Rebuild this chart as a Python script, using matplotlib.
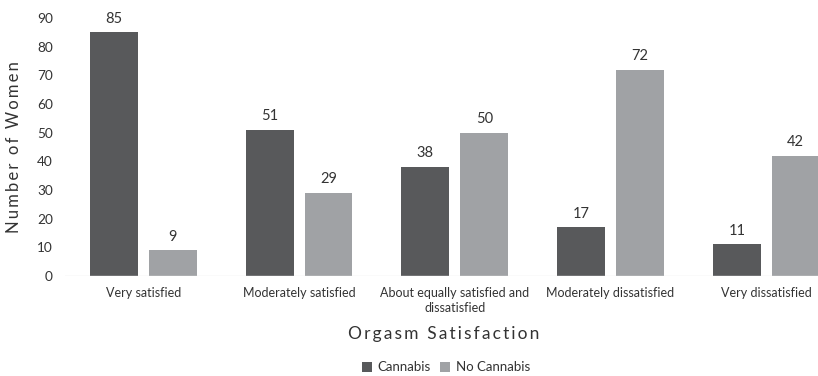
import numpy as np
from matplotlib import pyplot as plt

categories = ["Very satisfied", "Moderately satisfied",
              "About equally satisfied and\ndissatisfied",
              "Moderately dissatisfied", "Very dissatisfied"]
cannabis = [85, 51, 38, 17, 11]
no_cannabis = [9, 29, 50, 72, 42]
series_names = ["Cannabis", "No Cannabis"]

plt.rcParams["font.family"] = ["Lato", "DejaVu Sans"]

def spaced(s):
	# letter-spaced titles, like the original
	return "\u2009".join(s)

fig = plt.figure(figsize=(8.18, 3.76), dpi=100)
# axes run past the right edge on purpose (the original is cropped)
ax = fig.add_axes([0.080, 0.266, 0.952, 0.686])

x = np.arange(len(categories))
w = 0.308
off = 0.189
dark = "#58595b"
light = "#a0a2a5"
b1 = ax.bar(x - off, cannabis, w, color=dark, label=series_names[0])
b2 = ax.bar(x + off, no_cannabis, w, color=light, label=series_names[1])

for bars, vals in ((b1, cannabis), (b2, no_cannabis)):
	for b, v in zip(bars, vals):
		ax.text(b.get_x() + b.get_width() / 2, v + 2.3, str(v),
				ha="center", va="bottom", fontsize=10.5, color="#333333")

ax.set_xlim(-0.5, len(categories) - 0.5)
ax.set_ylim(0, 90)
ax.set_yticks(range(0, 91, 10))
ax.set_xticks(x)
ax.set_xticklabels(categories, linespacing=1.25)
ax.tick_params(axis="both", length=0, colors="#333333")
ax.tick_params(axis="y", pad=9, labelsize=9.8)
ax.tick_params(axis="x", pad=8, labelsize=9)
for s in ax.spines.values():
	s.set_visible(False)
ax.axhline(0, color="#e6e6e6", lw=1)

ax.set_ylabel(spaced("Number of Women"), fontsize=12, color="#333333", labelpad=11)
fig.text(0.543, 0.112, spaced("Orgasm Satisfaction"), ha="center",
		 va="center", fontsize=12.5, color="#333333")

fig.legend(handles=[b1, b2], loc="center", bbox_to_anchor=(0.545, 0.023),
		   ncol=2, frameon=False, fontsize=9.5, handlelength=0.75, handleheight=0.75,
		   handletextpad=0.45, columnspacing=0.7, labelcolor="#333333")

fig.savefig("out.png", dpi=100)
